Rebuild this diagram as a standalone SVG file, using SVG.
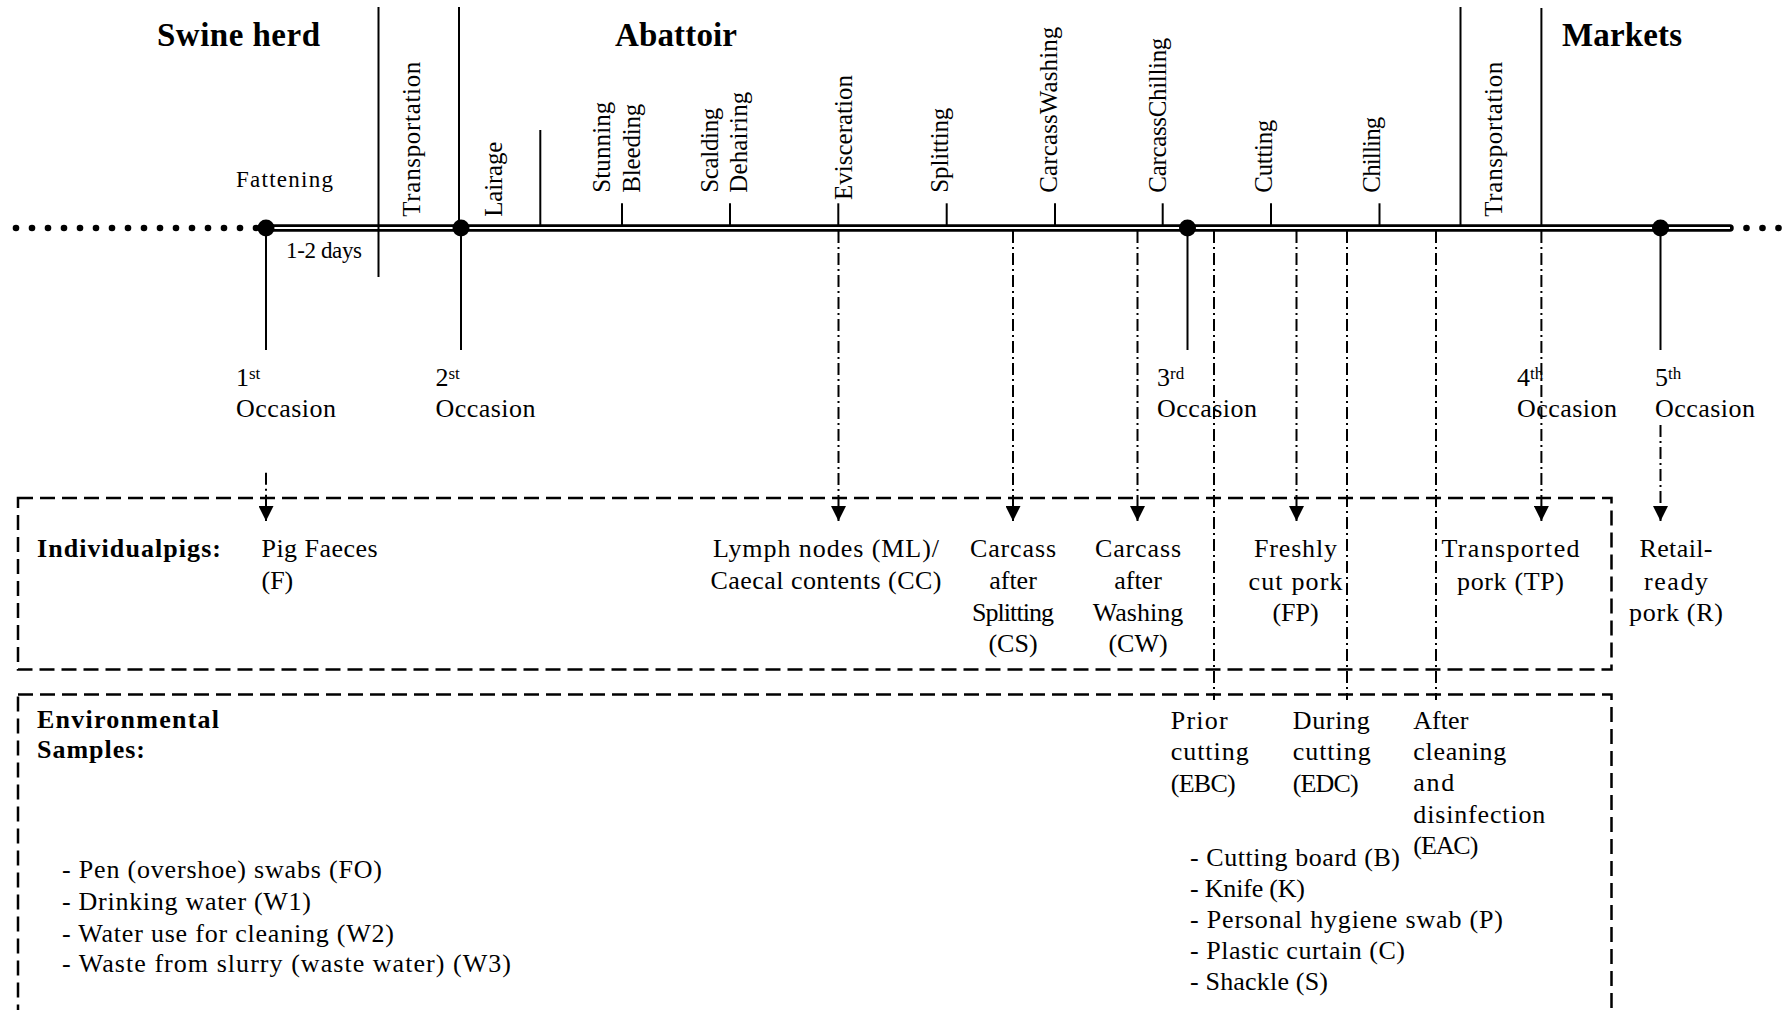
<svg xmlns="http://www.w3.org/2000/svg" width="1782" height="1010" viewBox="0 0 1782 1010">
<style>
  text { font-family: "Liberation Serif", "Times New Roman", serif; fill: #000; }
  .head { font-size: 33px; font-weight: bold; }
  .lbl { font-size: 26px; }
  .bold { font-weight: bold; }
  .step { font-size: 25px; }
  .small { font-size: 23px; }
  .sup { font-size: 17px; }
  .mid { text-anchor: middle; }
  .solid { stroke: #000; stroke-width: 2; fill: none; }
  .dd { stroke: #000; stroke-width: 2; fill: none; stroke-dasharray: 12 4 2 4; }
  .box { stroke: #000; stroke-width: 2.5; fill: none; stroke-dasharray: 15 7; }
  .lead { fill: #000; }
  .node { fill: #000; }
</style>
<defs>
  <marker id="arrow" markerUnits="userSpaceOnUse" markerWidth="15" markerHeight="15" viewBox="0 0 15 15" refX="15" refY="7.5" orient="auto">
    <path d="M0,0 L15,7.5 L0,15 Z" fill="#000"/>
  </marker>
</defs>
<rect width="1782" height="1010" fill="#fff"/>

<!-- main time axis -->
<g id="timeline">
  <g class="lead">
    <circle cx="16" cy="228" r="3.3"/><circle cx="32" cy="228" r="3.3"/><circle cx="48" cy="228" r="3.3"/><circle cx="64" cy="228" r="3.3"/>
    <circle cx="80" cy="228" r="3.3"/><circle cx="96" cy="228" r="3.3"/><circle cx="112" cy="228" r="3.3"/><circle cx="128" cy="228" r="3.3"/>
    <circle cx="144" cy="228" r="3.3"/><circle cx="160" cy="228" r="3.3"/><circle cx="176" cy="228" r="3.3"/><circle cx="192" cy="228" r="3.3"/>
    <circle cx="208" cy="228" r="3.3"/><circle cx="224" cy="228" r="3.3"/><circle cx="240" cy="228" r="3.3"/><circle cx="256" cy="228" r="3.3"/>
    <circle cx="1746.5" cy="228" r="3.3"/><circle cx="1762.5" cy="228" r="3.3"/><circle cx="1778.5" cy="228" r="3.3"/>
  </g>
  <line x1="266" y1="228" x2="1730" y2="228" stroke="#000" stroke-width="7.5" stroke-linecap="round"/>
  <line x1="266" y1="228" x2="1730" y2="228" stroke="#fff" stroke-width="2"/>
</g>

<!-- section boundaries and headings -->
<g id="section-swine-herd">
  <text class="head" x="157" y="45.5" textLength="163">Swine herd</text>
  <text class="small" x="236" y="187" textLength="97">Fattening</text>
  <line class="solid" x1="378.5" y1="7" x2="378.5" y2="277"/>
  <text class="small" x="286" y="258" textLength="76">1-2 days</text>
</g>
<g id="section-abattoir">
  <line class="solid" x1="459" y1="7" x2="459" y2="226"/>
  <text class="head" x="615" y="46" textLength="122">Abattoir</text>
</g>
<g id="section-markets">
  <line class="solid" x1="1460.5" y1="7" x2="1460.5" y2="226"/>
  <line class="solid" x1="1541.4" y1="8" x2="1541.4" y2="226"/>
  <text class="head" x="1562" y="46" textLength="120">Markets</text>
</g>

<!-- process steps along the axis -->
<g id="step-transportation-1">
  <text class="step" transform="translate(420,216.7) rotate(-90)" textLength="155">Transportation</text>
</g>
<g id="step-lairage">
  <line class="solid" x1="540.3" y1="130" x2="540.3" y2="226"/>
  <text class="step" transform="translate(501.5,216.7) rotate(-90)" textLength="75">Lairage</text>
</g>
<g id="step-stunning-bleeding">
  <line class="solid" x1="622" y1="203.3" x2="622" y2="226"/>
  <text class="step" transform="translate(610,192.7) rotate(-90)" textLength="91">Stunning</text>
  <text class="step" transform="translate(640.3,192.7) rotate(-90)" textLength="89">Bleeding</text>
</g>
<g id="step-scalding-dehairing">
  <line class="solid" x1="730" y1="203.3" x2="730" y2="226"/>
  <text class="step" transform="translate(717.8,192.7) rotate(-90)" textLength="85">Scalding</text>
  <text class="step" transform="translate(746.8,192.7) rotate(-90)" textLength="101">Dehairing</text>
</g>
<g id="step-evisceration">
  <line class="solid" x1="838.3" y1="203.3" x2="838.3" y2="226"/>
  <text class="step" transform="translate(851.7,200) rotate(-90)" textLength="125">Evisceration</text>
</g>
<g id="step-splitting">
  <line class="solid" x1="946.7" y1="203.3" x2="946.7" y2="226"/>
  <text class="step" transform="translate(948,192.7) rotate(-90)" textLength="85">Splitting</text>
</g>
<g id="step-carcass-washing">
  <line class="solid" x1="1055" y1="203.3" x2="1055" y2="226"/>
  <text class="step" transform="translate(1057,192.7) rotate(-90)" textLength="166">CarcassWashing</text>
</g>
<g id="step-carcass-chilling">
  <line class="solid" x1="1162.7" y1="203.3" x2="1162.7" y2="226"/>
  <text class="step" transform="translate(1165.5,192.7) rotate(-90)" textLength="155">CarcassChilling</text>
</g>
<g id="step-cutting">
  <line class="solid" x1="1271" y1="203.3" x2="1271" y2="226"/>
  <text class="step" transform="translate(1272,192.7) rotate(-90)" textLength="73">Cutting</text>
</g>
<g id="step-chilling">
  <line class="solid" x1="1379.5" y1="203.3" x2="1379.5" y2="226"/>
  <text class="step" transform="translate(1380,192.7) rotate(-90)" textLength="76">Chilling</text>
</g>
<g id="step-transportation-2">
  <text class="step" transform="translate(1502,216.7) rotate(-90)" textLength="155">Transportation</text>
</g>

<!-- sampling occasions -->
<g id="occasion-1">
  <line class="solid" x1="266" y1="228" x2="266" y2="350"/>
  <circle class="node" cx="266" cy="228" r="8.5"/>
  <text class="lbl" x="236" y="386">1<tspan class="sup" dy="-7">st</tspan></text>
  <text class="lbl" x="236" y="416.7" textLength="100">Occasion</text>
</g>
<g id="occasion-2">
  <line class="solid" x1="461" y1="228" x2="461" y2="350"/>
  <circle class="node" cx="461" cy="228" r="8.5"/>
  <text class="lbl" x="435.5" y="386">2<tspan class="sup" dy="-7">st</tspan></text>
  <text class="lbl" x="435.5" y="416.7" textLength="100">Occasion</text>
</g>
<g id="occasion-3">
  <line class="solid" x1="1187.5" y1="228" x2="1187.5" y2="350"/>
  <circle class="node" cx="1187.5" cy="228" r="8.5"/>
  <text class="lbl" x="1157" y="386">3<tspan class="sup" dy="-7">rd</tspan></text>
  <text class="lbl" x="1157" y="416.7" textLength="100">Occasion</text>
</g>
<g id="occasion-4">
  <text class="lbl" x="1517" y="386">4<tspan class="sup" dy="-7">th</tspan></text>
  <text class="lbl" x="1517" y="416.7" textLength="100">Occasion</text>
</g>
<g id="occasion-5">
  <line class="solid" x1="1660.5" y1="228" x2="1660.5" y2="350"/>
  <circle class="node" cx="1660.5" cy="228" r="8.5"/>
  <text class="lbl" x="1655" y="386">5<tspan class="sup" dy="-7">th</tspan></text>
  <text class="lbl" x="1655" y="416.7" textLength="100">Occasion</text>
</g>

<!-- individual pig samples -->
<g id="box-individual">
  <rect class="box" x="18" y="498" width="1593.5" height="171.5"/>
  <text class="lbl bold" x="37" y="556.7" textLength="184">Individualpigs:</text>
</g>
<g id="sample-F">
  <text class="lbl" x="261.5" y="556.7" textLength="116">Pig Faeces</text>
  <text class="lbl" x="261.5" y="589">(F)</text>
</g>
<g id="sample-ML-CC">
  <text class="lbl mid" x="826" y="556.7" textLength="226">Lymph nodes (ML)/</text>
  <text class="lbl mid" x="826" y="589" textLength="231">Caecal contents (CC)</text>
</g>
<g id="sample-CS">
  <text class="lbl mid" x="1013" y="556.7" textLength="86">Carcass</text>
  <text class="lbl mid" x="1013" y="589">after</text>
  <text class="lbl mid" x="1013" y="620.7" textLength="82">Splitting</text>
  <text class="lbl mid" x="1013" y="652">(CS)</text>
</g>
<g id="sample-CW">
  <text class="lbl mid" x="1138" y="556.7" textLength="86">Carcass</text>
  <text class="lbl mid" x="1138" y="589">after</text>
  <text class="lbl mid" x="1138" y="620.7">Washing</text>
  <text class="lbl mid" x="1138" y="652">(CW)</text>
</g>
<g id="sample-FP">
  <text class="lbl mid" x="1295.5" y="556.7" textLength="83">Freshly</text>
  <text class="lbl mid" x="1295.5" y="589.5" textLength="94">cut pork</text>
  <text class="lbl mid" x="1295.5" y="621">(FP)</text>
</g>
<g id="sample-TP">
  <text class="lbl mid" x="1510.5" y="556.7" textLength="138">Transported</text>
  <text class="lbl mid" x="1510.5" y="589.5" textLength="107">pork (TP)</text>
</g>
<g id="sample-R">
  <text class="lbl mid" x="1676" y="556.7" textLength="73">Retail-</text>
  <text class="lbl mid" x="1676" y="589.5" textLength="64">ready</text>
  <text class="lbl mid" x="1676" y="621" textLength="94">pork (R)</text>
</g>

<!-- environmental samples -->
<g id="box-environmental">
  <rect class="box" x="18" y="694.5" width="1593.5" height="340"/>
  <text class="lbl bold" x="37" y="728.3" textLength="182">Environmental</text>
  <text class="lbl bold" x="37" y="758.3" textLength="108">Samples:</text>
</g>
<g id="env-farm">
  <text class="lbl" x="62" y="878.3" textLength="320">- Pen (overshoe) swabs (FO)</text>
  <text class="lbl" x="62" y="910" textLength="249">- Drinking water (W1)</text>
  <text class="lbl" x="62" y="941.7" textLength="332">- Water use for cleaning (W2)</text>
  <text class="lbl" x="62" y="971.7" textLength="449">- Waste from slurry (waste water) (W3)</text>
</g>
<g id="env-EBC">
  <text class="lbl" x="1170.7" y="729.3" textLength="57">Prior</text>
  <text class="lbl" x="1170.7" y="760" textLength="78">cutting</text>
  <text class="lbl" x="1170.7" y="791.5" textLength="65">(EBC)</text>
</g>
<g id="env-EDC">
  <text class="lbl" x="1292.7" y="729.3" textLength="77">During</text>
  <text class="lbl" x="1292.7" y="760" textLength="78">cutting</text>
  <text class="lbl" x="1292.7" y="791.5" textLength="66">(EDC)</text>
</g>
<g id="env-EAC">
  <text class="lbl" x="1413.3" y="729.3" textLength="55">After</text>
  <text class="lbl" x="1413.3" y="760" textLength="93">cleaning</text>
  <text class="lbl" x="1413.3" y="791" textLength="41">and</text>
  <text class="lbl" x="1413.3" y="822.7" textLength="132">disinfection</text>
  <text class="lbl" x="1413.3" y="854" textLength="65">(EAC)</text>
</g>
<g id="env-abattoir">
  <text class="lbl" x="1190" y="865.7" textLength="210">- Cutting board (B)</text>
  <text class="lbl" x="1190" y="896.7" textLength="115">- Knife (K)</text>
  <text class="lbl" x="1190" y="928.3" textLength="313">- Personal hygiene swab (P)</text>
  <text class="lbl" x="1190" y="959.3" textLength="215">- Plastic curtain (C)</text>
  <text class="lbl" x="1190" y="990" textLength="138">- Shackle (S)</text>
</g>

<!-- sampling links -->
<g id="connectors">
  <line class="dd" x1="266" y1="472.7" x2="266" y2="521" marker-end="url(#arrow)"/>
  <line class="dd" x1="838.5" y1="231" x2="838.5" y2="521" marker-end="url(#arrow)"/>
  <line class="dd" x1="1013" y1="231" x2="1013" y2="521" marker-end="url(#arrow)"/>
  <line class="dd" x1="1137.5" y1="231" x2="1137.5" y2="521" marker-end="url(#arrow)"/>
  <line class="dd" x1="1296.5" y1="231" x2="1296.5" y2="521" marker-end="url(#arrow)"/>
  <line class="dd" x1="1541.4" y1="231" x2="1541.4" y2="521" marker-end="url(#arrow)"/>
  <line class="dd" x1="1660.5" y1="425" x2="1660.5" y2="521" marker-end="url(#arrow)"/>
  <line class="dd" x1="1214" y1="231" x2="1214" y2="700"/>
  <line class="dd" x1="1347" y1="231" x2="1347" y2="700"/>
  <line class="dd" x1="1436" y1="231" x2="1436" y2="700"/>
</g>
</svg>
